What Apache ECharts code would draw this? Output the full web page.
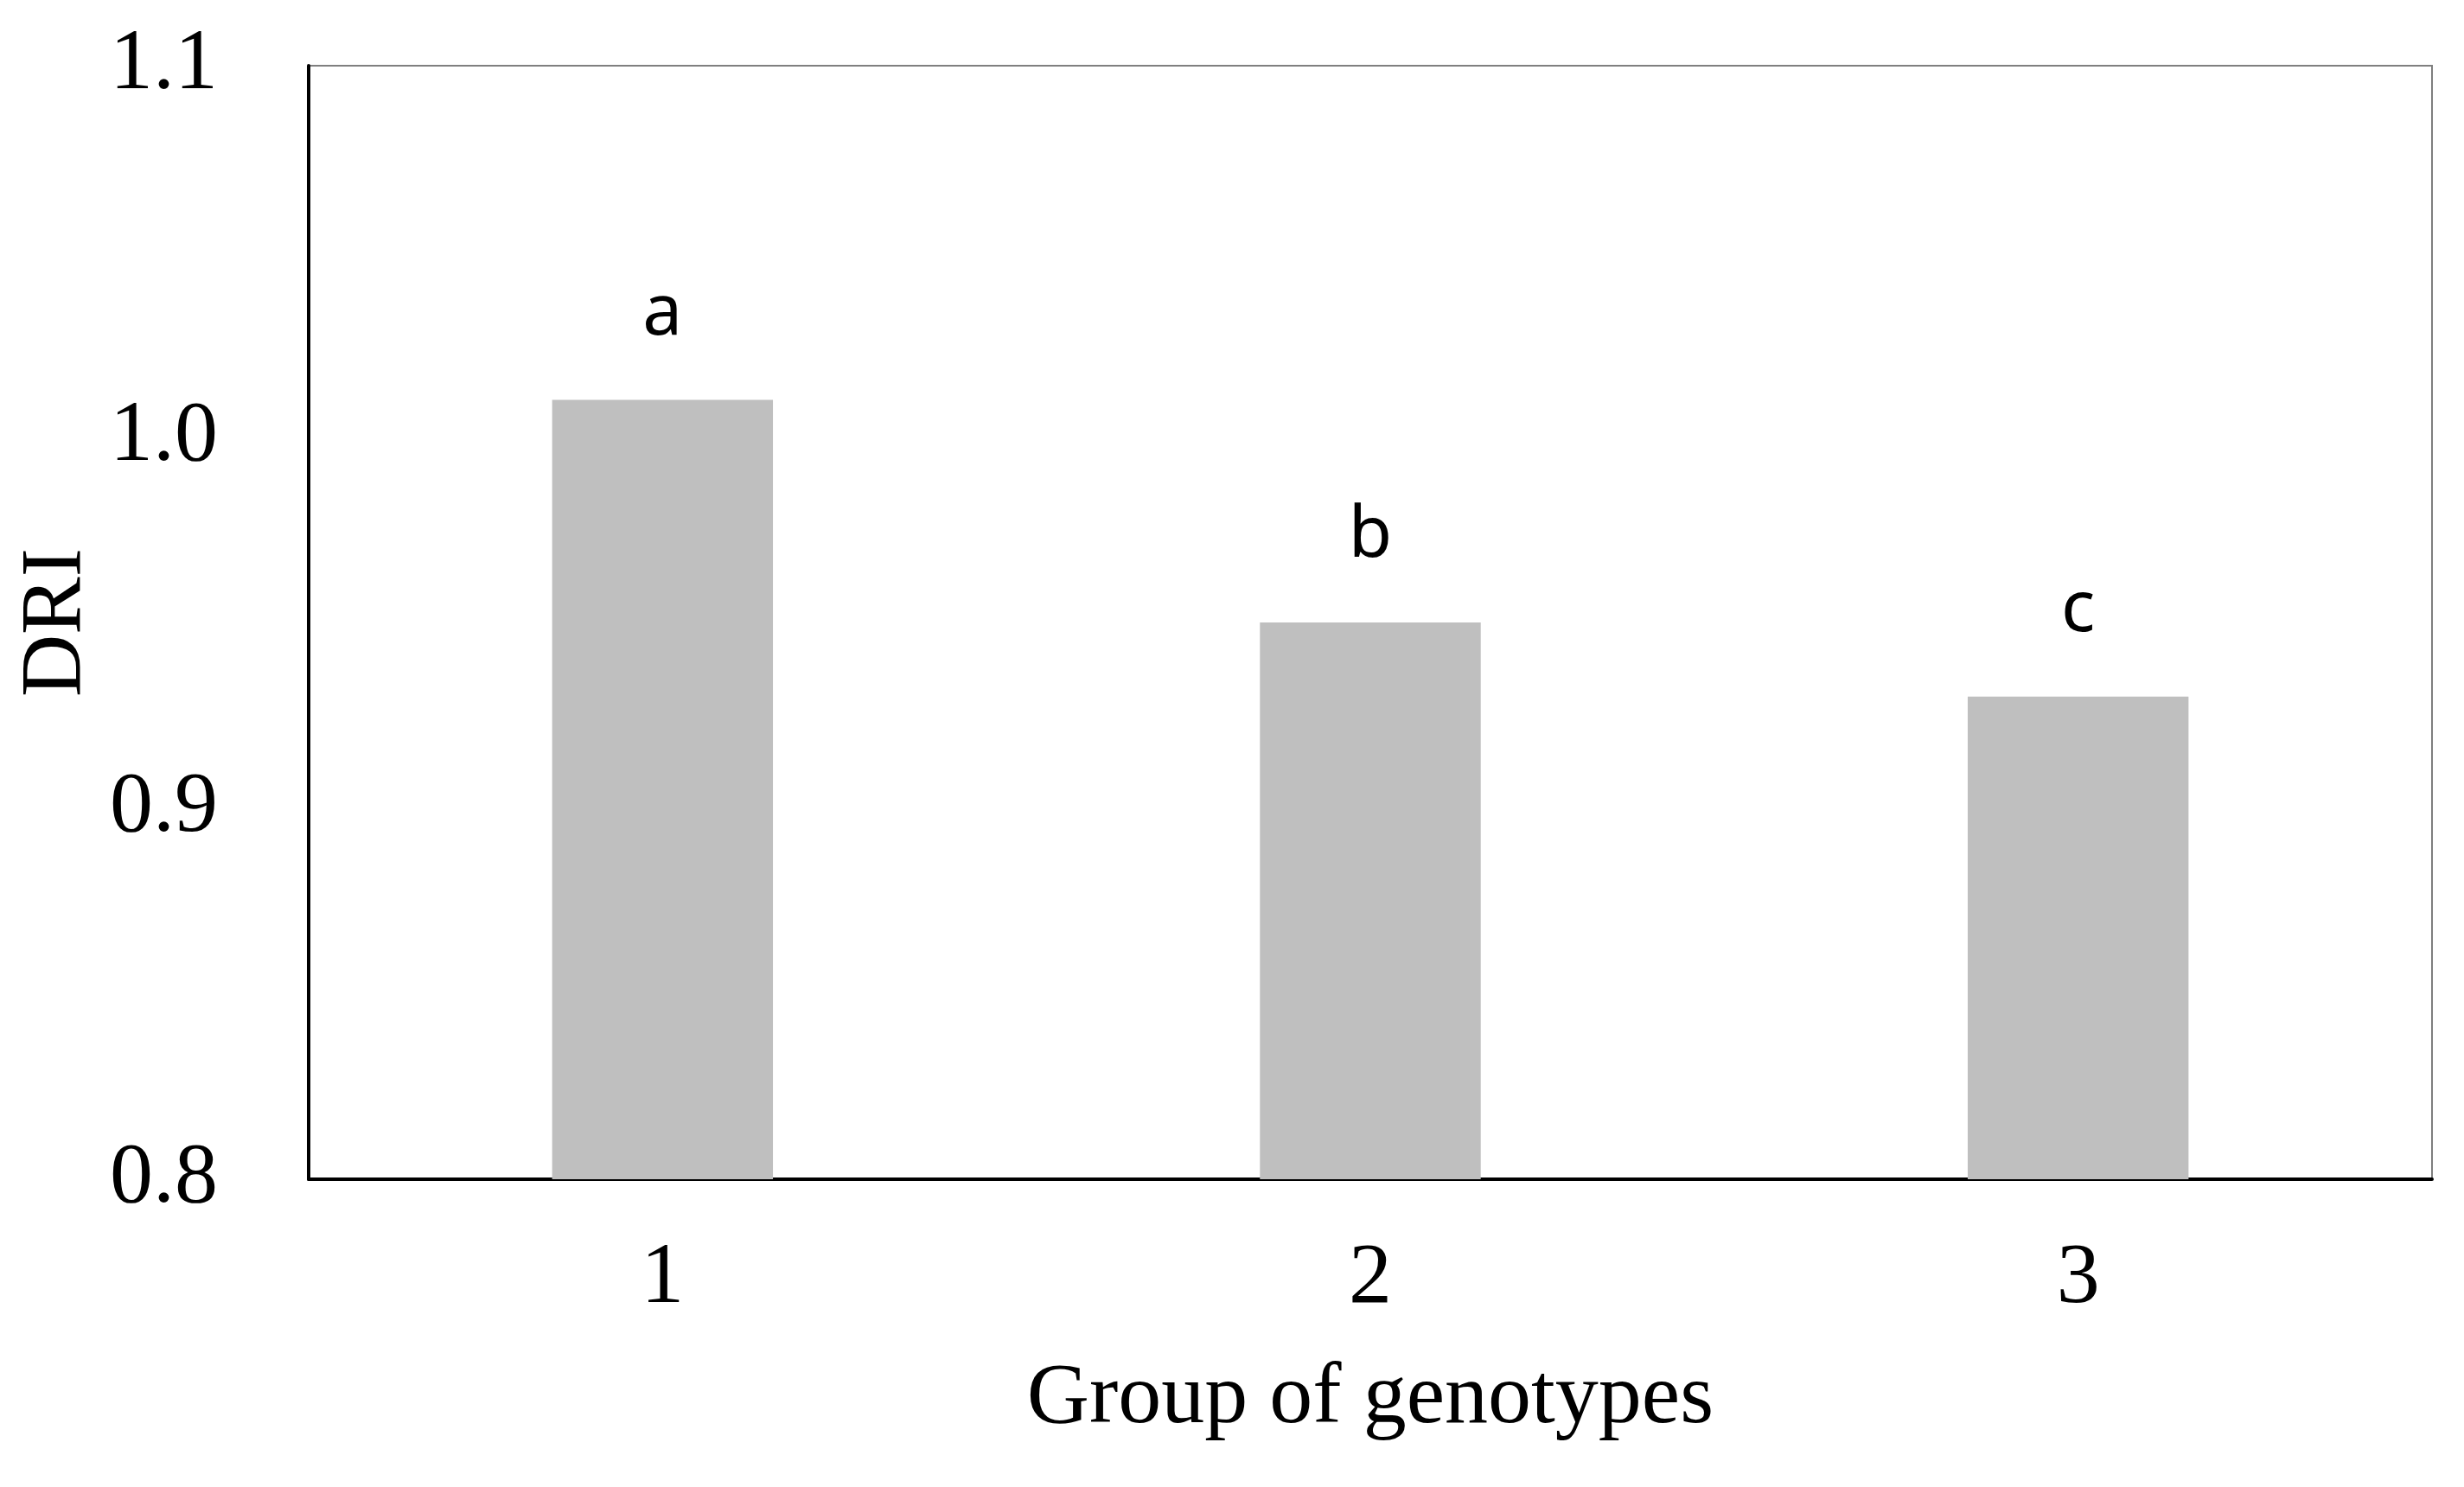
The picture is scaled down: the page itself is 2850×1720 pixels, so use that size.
<!DOCTYPE html>
<html>
<head>
<meta charset="utf-8">
<title>DRI by group of genotypes</title>
<script src="https://cdn.jsdelivr.net/npm/echarts@6/dist/echarts.min.js"></script>
<style>
  html, body { margin: 0; padding: 0; background: #fff; }
  #chart { width: 2850px; height: 1720px; }
</style>
</head>
<body>
<div id="chart"></div>
<script>
const groups = ['1', '2', '3'];
const dri = [1.010, 0.950, 0.930];
const letters = ['a', 'b', 'c'];
const yTicks = [0.8, 0.9, 1.0, 1.1];

const serif = '"Liberation Serif", "Times New Roman", serif';

const chart = echarts.init(document.getElementById('chart'));
chart.setOption({
  animation: false,
  backgroundColor: '#fff',
  grid: {
    left: 357,
    right: 37,
    top: 76,
    bottom: 356,
    show: true,
    borderColor: '#7f7f7f',
    borderWidth: 2,
  },
  xAxis: {
    type: 'category',
    data: groups,
    name: 'Group of genotypes',
    nameLocation: 'middle',
    nameGap: 205,
    nameTextStyle: { fontFamily: serif, fontSize: 100, color: '#000' },
    axisLine: { lineStyle: { color: '#000', width: 4 } },
    axisTick: { show: false },
    axisLabel: { fontFamily: serif, fontSize: 100, color: '#000', margin: 66 },
  },
  yAxis: {
    type: 'value',
    min: yTicks[0],
    max: yTicks[yTicks.length - 1],
    interval: 0.1,
    name: 'DRI',
    nameLocation: 'middle',
    nameGap: 238,
    nameTextStyle: { fontFamily: serif, fontSize: 100, color: '#000' },
    axisLine: { show: true, lineStyle: { color: '#000', width: 4 } },
    axisTick: { show: false },
    splitLine: { show: false },
    axisLabel: {
      fontFamily: serif,
      fontSize: 100,
      color: '#000',
      margin: 105,
      formatter: (v) => v.toFixed(1),
    },
  },
  series: [
    {
      type: 'bar',
      data: dri,
      barWidth: '31.2%',
      itemStyle: { color: '#bfbfbf' },
      label: {
        show: true,
        position: 'top',
        distance: 58,
        fontFamily: '"Noto Sans", "Open Sans", sans-serif',
        fontSize: 82,
        lineHeight: 82,
        color: '#000',
        formatter: (p) => letters[p.dataIndex],
      },
    },
  ],
});
</script>
</body>
</html>
